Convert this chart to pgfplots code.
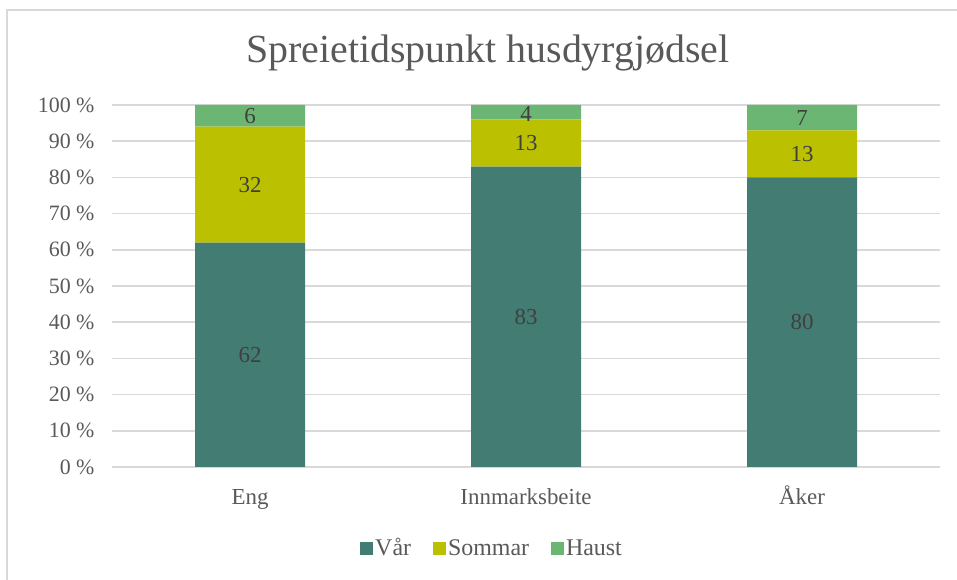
\documentclass[border=0pt]{standalone}
\usepackage{fontspec}
\setmainfont{Liberation Serif}
\usepackage{pgfplots}
\pgfplotsset{compat=1.18}
\definecolor{var}{HTML}{437C72}
\definecolor{som}{HTML}{BBC000}
\definecolor{hau}{HTML}{6AB672}
\definecolor{txt}{HTML}{595959}
\definecolor{lbl}{HTML}{404040}
\definecolor{grd}{HTML}{D9D9D9}
\newcommand{\lab}{\fontsize{22}{26}\selectfont}
\begin{document}
\begin{tikzpicture}
\path[use as bounding box] (0bp,0bp) rectangle (957bp,580bp);
\draw[grd, line width=1.5bp] (7bp,0bp) -- (7bp,570bp) -- (957bp,570bp);
\node[text=txt, font=\fontsize{40}{48}\selectfont] at (488bp,527bp) {Spreietidspunkt husdyrgjødsel};
\begin{axis}[
  at={(112bp,113bp)}, anchor=south west, scale only axis,
  width=828bp, height=362bp,
  ybar stacked, bar width=110bp,
  xmin=-0.5, xmax=2.5, ymin=0, ymax=100,
  xtick={0,1,2}, xticklabels={Eng,Innmarksbeite,Åker},
  ytick={0,10,...,100},
  yticklabel={\pgfmathprintnumber[assume math mode=true]{\tick} \%},
  ymajorgrids, grid style={grd, line width=1.5bp},
  axis line style={draw=none}, major tick length=0,
  tick label style={text=txt, font=\lab},
  yticklabel style={xshift=-14bp},
  xticklabel style={anchor=base, yshift=-37bp, font=\fontsize{23}{27}\selectfont},
  legend style={at={(0.459,-0.224)}, anchor=center, draw=none, legend columns=3,
    font=\fontsize{24}{28}\selectfont, text=txt,
    /tikz/every even column/.append style={column sep=20bp},
    /tikz/every odd column/.append style={column sep=0bp}},
  legend image code/.code={\fill[#1] (0bp,-6.5bp) rectangle (13bp,6.5bp);},
]
\addplot[fill=var, draw=none] coordinates {(0,62) (1,83) (2,80)};
\addplot[fill=som, draw=none] coordinates {(0,32) (1,13) (2,13)};
\addplot[fill=hau, draw=none] coordinates {(0,6) (1,4) (2,7)};
\legend{Vår,Sommar,Haust}
\end{axis}
\begin{axis}[
  at={(112bp,113bp)}, anchor=south west, scale only axis,
  width=828bp, height=362bp,
  xmin=-0.5, xmax=2.5, ymin=0, ymax=100, hide axis,
]
\addplot[draw=none, mark=none, nodes near coords, point meta=explicit symbolic,
  every node near coord/.append style={anchor=center, text=lbl, font=\fontsize{23}{27}\selectfont}]
  coordinates {(0,31)[62] (0,78)[32] (0,97)[6]
               (1,41.5)[83] (1,89.5)[13] (1,97.5)[4]
               (2,40)[80] (2,86.5)[13] (2,96.5)[7]};
\end{axis}
\end{tikzpicture}
\end{document}
